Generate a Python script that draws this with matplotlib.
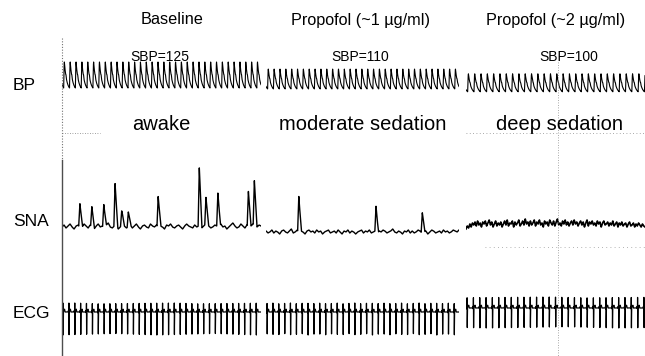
import numpy as np
import matplotlib.pyplot as plt
from matplotlib.lines import Line2D

plt.rcParams['font.family'] = ['Liberation Sans', 'DejaVu Sans']

# ---- data ----
conditions = ["Baseline", "Propofol (~1 µg/ml)", "Propofol (~2 µg/ml)"]
states = ["awake", "moderate sedation", "deep sedation"]
channels = ["BP", "SNA", "ECG"]
sbp = [125, 110, 100]          # mmHg
dbp = [70, 68, 62]             # mmHg
heart_rate = [68, 66, 63]      # bpm
window_s = [30, 30, 27]        # seconds shown in each panel

# sympathetic bursts: time (s) and height (a.u.)
burst_t = [[2.7, 4.5, 6.3, 8.0, 9.0, 10.0, 14.5, 20.7, 21.7, 23.5, 28.1, 29.0],
           [5.1, 17.1, 24.3],
           []]
burst_amp = [[24, 20, 23, 42, 14, 15, 31, 59, 27, 34, 35, 44],
             [36, 26, 20],
             []]
sna_level = [0, -5, 1]
sna_ripple = [
    [0, 2, -1, 1, 3, 0, -2, 1, 2, -1, 0, 3, 1, -1, 2, 0, -2, 1, 3, 0,
     1, -1, 2, 4, 0, -1, 1, 2, -2, 0, 3, 1, -1, 0, 2, -1, 1, 3, 0, -2,
     1, 2, 0, -1, 3, 1, 0, 2, -1, 1, 0, -2, 2, 1, 3, 0, -1, 1, 2, 0,
     -2, 1, 3, 1, 0, -1, 2, 0, 1, -2, 0, 2, 3, 1, -1, 0, 2, 1, -1, 3,
     0, 1, -2, 0, 2, 4, 1, -1, 0, 3, 1, -1, 2, 0, 1, 3, 2, 0, 2, 1],
    [1, -1, 0, 2, -1, 1, 0, -2, 1, 2, 0, -1, 1, 3, -1, 0, 2, -1, 1, 0,
     -2, 1, 2, 0, 1, -1, 2, 0, 1, -2, 0, 1, 2, -1, 0, 1, -1, 2, 0, -2,
     1, 0, 2, -1, 1, 0, -2, 0, 1, 2, -1, 1, 0, 2, -1, 0, 1, -2, 1, 0,
     2, 1, -1, 0, 1, 3, 0, -1, 1, 0, -2, 1, 0, 2, -1, 1, -1, 0, 2, 1,
     -1, 0, 1, -2, 0, 2, 1, -1, 0, 1, -1, 2, 0, 1, -1, 0, 2, 1, 0, 2],
    [-3, 0, -2, 2, -1, 3, 1, 4, 0, 5, 1, 3, -1, 4, 2, 5, 0, 3, 6, 1,
     4, -1, 2, 5, 0, 3, 1, 4, -1, 2, 5, 1, 6, 0, 3, 2, 5, -1, 4, 1,
     3, 6, 0, 2, 5, 1, 7, 2, 4, 0, 5, 1, 3, 6, 0, 4, 2, 6, 1, 3,
     -1, 5, 2, 4, 0, 6, 3, 1, 5, 0, 4, 7, 1, 3, 0, 5, 2, 6, 1, 4,
     0, 3, 5, 1, 6, 2, 4, 0, 3, 5, 1, 4, -1, 3, 6, 0, 4, 2, 5, 1,
     3, 0, 5, 2, 4, -1, 3, 5, 1, 2, 4, 0, 3, 1, 5, 0, 2, 4, -1, 3,
     1, 4, 0, 2, 3, -1, 2, 4, 0, 1, 3, -1, 2, 0, 3, 1, -1, 2, 0, -1]
]
ecg_level = [0, 0, 0.2]        # mV
ecg_r = [0.45, 0.45, 0.55]
ecg_s = [-1.15, -1.15, -1.0]

# ---- layout (pixels of a 645x356 canvas) ----
W, H = 645, 356
panel_x = [(62, 261), (266, 459), (466, 645)]
row_y = {"BP": (50, 100), "SNA": (160, 245), "ECG": (290, 345)}

fig = plt.figure(figsize=(W / 100, H / 100), dpi=100)


def add_ax(x0, x1, y0, y1):
    return fig.add_axes([x0 / W, 1 - y1 / H, (x1 - x0) / W, (y1 - y0) / H])


def lims(top, bot, v_a, y_a, v_b, y_b):
    k = (v_a - v_b) / (y_b - y_a)
    return v_b - (bot - y_b) * k, v_a + (y_a - top) * k


fs = 400
for i in range(3):
    T = window_s[i]
    t = np.arange(0, T, 1 / fs)
    rr = 60 / heart_rate[i]
    ph = ((t - 0.25) % rr) / rr

    # arterial pressure
    rise = 0.12
    dec = np.exp(-(ph - rise) / 0.4)
    end = np.exp(-(1 - rise) / 0.4)
    v = np.where(ph < rise, np.sin(0.5 * np.pi * ph / rise), (dec - end) / (1 - end))
    v = v + 0.07 * np.exp(-((ph - 0.40) / 0.04) ** 2)
    bp = dbp[i] + (sbp[i] - dbp[i]) * v
    ax = add_ax(*panel_x[i], *row_y["BP"])
    ax.plot(t, bp, color="black", lw=0.8)
    ax.set_xlim(0, T)
    ax.set_ylim(*lims(*row_y["BP"], 125, 62, 70, 88))
    ax.axis("off")

    # sympathetic nerve activity
    rip = np.array(sna_ripple[i], dtype=float)
    sna = sna_level[i] + np.interp(t, np.linspace(0, T, len(rip)), rip)
    for tb, a in zip(burst_t[i], burst_amp[i]):
        d = t - tb
        sna += a * np.clip(np.where(d < 0, 1 + d / 0.18, 1 - d / 0.4), 0, None)
    ax = add_ax(*panel_x[i], *row_y["SNA"])
    ax.plot(t, sna, color="black", lw=1.0 if i < 2 else 1.2)
    ax.set_xlim(0, T)
    ax.set_ylim(*lims(*row_y["SNA"], 0, 227, -10, 237))
    ax.axis("off")

    # ECG
    kp = [0, 0.05, 0.08, 0.10, 0.125, 0.15, 0.175, 0.30, 0.38, 0.46, 1.0]
    kv = [0, 0.08, 0, -0.05, ecg_r[i], ecg_s[i], 0, 0.1, 0.14, 0, 0]
    ecg = ecg_level[i] + np.interp(((t - 0.05) % rr) / rr, kp, kv)
    ax = add_ax(*panel_x[i], *row_y["ECG"])
    ax.plot(t, ecg, color="black", lw=0.9)
    ax.set_xlim(0, T)
    ax.set_ylim(*lims(*row_y["ECG"], 0, 312, -1, 332))
    ax.axis("off")


# ---- scan artefacts: axis line and faint grid ----
def fline(xs, ys, **kw):
    fig.add_artist(Line2D([x / W for x in xs], [1 - y / H for y in ys], **kw))


fline([62, 62], [38, 160], color="0.45", lw=0.8, ls=(0, (1, 1.5)))
fline([62, 62], [160, 356], color="0.3", lw=1.0)
fline([558, 558], [62, 356], color="0.55", lw=0.6, ls=(0, (1, 2)))
fline([62, 100], [133, 133], color="0.5", lw=0.6, ls=(0, (1, 2)))
fline([466, 645], [133, 133], color="0.55", lw=0.6, ls=(0, (1, 3)))
fline([485, 645], [247, 247], color="0.6", lw=0.6, ls=(0, (1, 4)))

# ---- text ----
head_x = [172, 361, 556]
sbp_x = [160, 360, 569]
state_x = [161, 363, 560]
for i in range(3):
    fig.text(head_x[i] / W, 1 - 20 / H, conditions[i], ha="center", va="center", fontsize=11.7)
    fig.text(sbp_x[i] / W, 1 - 57 / H, f"SBP={sbp[i]}", ha="center", va="center", fontsize=10)
    fig.text(state_x[i] / W, 1 - 124 / H, states[i], ha="center", va="center", fontsize=14.5)

label_y = {"BP": 85, "SNA": 222, "ECG": 314}
for ch in channels:
    fig.text(13 / W, 1 - label_y[ch] / H, ch, ha="left", va="center", fontsize=12.5)

fig.savefig("out.png", dpi=100)
